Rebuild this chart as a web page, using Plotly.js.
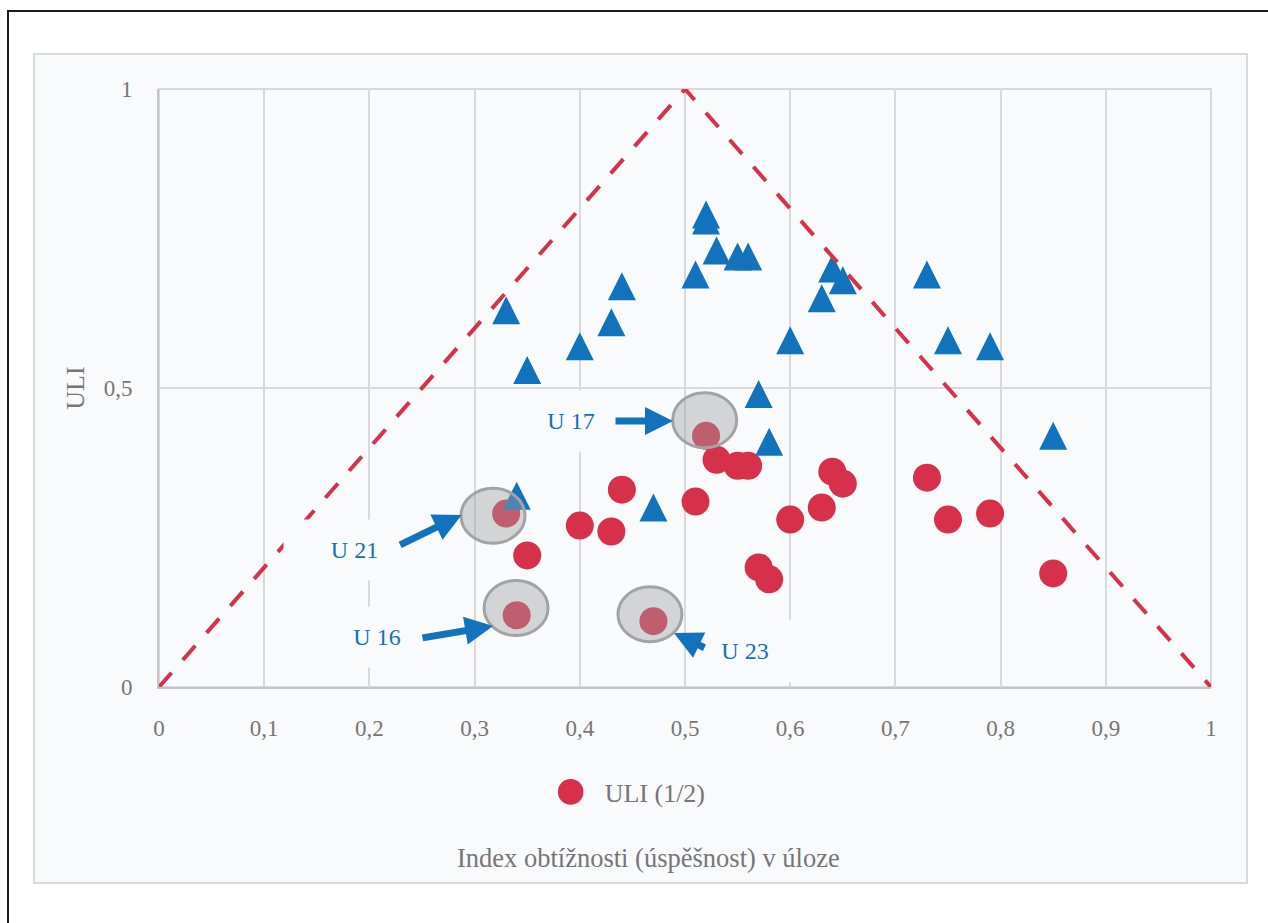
<!DOCTYPE html>
<html>
<head>
<meta charset="utf-8">
<script src="https://cdn.plot.ly/plotly-3.0.1.min.js"></script>
<style>
html,body{margin:0;padding:0;background:#ffffff;width:1268px;height:923px;overflow:hidden;}
#frame{position:absolute;left:7px;top:10px;width:1400px;height:1100px;border-left:2px solid #1f1b1c;border-top:2px solid #1f1b1c;}
#box{position:absolute;left:33px;top:53px;width:1215px;height:831px;box-sizing:border-box;background:#f9fafc;border:2px solid #dadada;}
#chart{position:absolute;left:0;top:0;width:1268px;height:923px;}
</style>
</head>
<body>
<div id="frame"></div>
<div id="box"></div>
<div id="chart"></div>
<script>
// ---- data ----
// ULI (1/2) – red circles
const uliHalfX = [0.33, 0.35, 0.40, 0.43, 0.44, 0.34, 0.47, 0.51, 0.52, 0.53, 0.55, 0.56, 0.57, 0.58, 0.60, 0.63, 0.64, 0.65, 0.73, 0.75, 0.79, 0.85];
const uliHalfY = [0.29, 0.22, 0.27, 0.26, 0.33, 0.12, 0.11, 0.31, 0.42, 0.38, 0.37, 0.37, 0.20, 0.18, 0.28, 0.30, 0.36, 0.34, 0.35, 0.28, 0.29, 0.19];
// second series – blue triangles
const uliOtherX = [0.33, 0.35, 0.40, 0.43, 0.44, 0.51, 0.52, 0.52, 0.53, 0.55, 0.56, 0.57, 0.58, 0.60, 0.63, 0.64, 0.65, 0.73, 0.75, 0.79, 0.85, 0.34, 0.47];
const uliOtherY = [0.63, 0.53, 0.57, 0.61, 0.67, 0.69, 0.79, 0.78, 0.73, 0.72, 0.72, 0.49, 0.41, 0.58, 0.65, 0.70, 0.68, 0.69, 0.58, 0.57, 0.42, 0.32, 0.30];
// boundary (max ULI for given difficulty)
const boundaryX = [0, 0.5, 1];
const boundaryY = [0, 1, 0];
// ticks
const xTickVals = [0, 0.1, 0.2, 0.3, 0.4, 0.5, 0.6, 0.7, 0.8, 0.9, 1];
const xTickText = ['0', '0,1', '0,2', '0,3', '0,4', '0,5', '0,6', '0,7', '0,8', '0,9', '1'];
const yTickVals = [0, 0.5, 1];
const yTickText = ['0', '0,5', '1'];
// labels
const seriesName = 'ULI (1/2)';
const xTitle = 'Index obtížnosti (úspěšnost) v úloze';
const yTitle = 'ULI';
const calloutNames = ['U 21', 'U 16', 'U 17', 'U 23'];

// ---- styles ----
const RED = '#d6304a';
const BLUE = '#1272bb';
const GREY_TXT = '#767676';
const BG = '#f9fafc';
const FONT = '"Liberation Serif", "DejaVu Serif", serif';

const traces = [
  {
    type: 'scatter', mode: 'markers', name: seriesName,
    x: uliHalfX, y: uliHalfY,
    marker: {symbol: 'circle', size: 28, color: RED, line: {width: 0}},
    hoverinfo: 'skip'
  },
  {
    type: 'scatter', mode: 'markers', name: 'ULI',
    x: uliOtherX, y: uliOtherY, showlegend: false,
    marker: {symbol: 'arrow-down', angle: 180, standoff: 14, size: 28, color: BLUE, line: {width: 0}},
    hoverinfo: 'skip'
  },
  {
    type: 'scatter', mode: 'lines', name: 'hranice',
    x: boundaryX, y: boundaryY, showlegend: false,
    line: {color: RED, width: 4, dash: '19px,17px'},
    hoverinfo: 'skip'
  }
];

// callout text boxes (positions in data units) and arrows
const labelPos = [
  {x: 0.1858, y: 0.2291, w: 141, h: 60},
  {x: 0.2072, y: 0.0836, w: 140, h: 60},
  {x: 0.3916, y: 0.4448, w: 100, h: 60},
  {x: 0.5570, y: 0.0602, w: 96, h: 62}
];
const arrowPos = [
  {x: 0.2877, y: 0.2876, ax: -62, ay: 30},
  {x: 0.3175, y: 0.1020, ax: -71, ay: 12},
  {x: 0.4886, y: 0.4448, ax: -58, ay: 0},
  {x: 0.4895, y: 0.0903, ax: 31, ay: 15}
];
const ellipsePos = [
  {x: 0.3175, y: 0.2863},
  {x: 0.3394, y: 0.1321},
  {x: 0.5187, y: 0.4462},
  {x: 0.4667, y: 0.1216}
];

const annotations = [];
labelPos.forEach((p, i) => annotations.push({
  xref: 'x', yref: 'y', x: p.x, y: p.y, text: calloutNames[i], showarrow: false,
  font: {family: FONT, size: 24, color: BLUE}, bgcolor: BG, borderpad: 0,
  width: p.w, height: p.h, align: 'center', valign: 'middle'
}));
arrowPos.forEach(p => annotations.push({
  xref: 'x', yref: 'y', x: p.x, y: p.y, ax: p.ax, ay: p.ay, text: '', showarrow: true,
  arrowhead: 2, arrowsize: 0.8, arrowwidth: 7, arrowcolor: BLUE, borderpad: 0
}));
// x-axis title (centred on the chart box, as in the original)
annotations.push({
  xref: 'paper', yref: 'paper', x: 0.4653, y: -0.286, xanchor: 'center', yanchor: 'middle',
  text: xTitle, showarrow: false, font: {family: FONT, size: 26.5, color: GREY_TXT}
});

const shapes = [{
  type: 'rect', layer: 'below', xref: 'paper', yref: 'paper', x0: 0, x1: 1, y0: 0, y1: 1,
  line: {color: '#d9d9d9', width: 2}, fillcolor: 'rgba(0,0,0,0)'
}].concat(ellipsePos.map(p => ({
  type: 'circle', layer: 'above', xref: 'x', yref: 'y',
  xsizemode: 'pixel', ysizemode: 'pixel', xanchor: p.x, yanchor: p.y,
  x0: -32, x1: 32, y0: -27.5, y1: 27.5,
  fillcolor: 'rgba(160,160,160,0.42)', line: {color: '#a3a3a3', width: 3}
})));

const axisCommon = {
  range: [0, 1], showgrid: true, gridcolor: '#d9d9d9', gridwidth: 2,
  zeroline: false, showline: true, linecolor: '#c4c4c4', linewidth: 2,
  ticks: 'outside', tickcolor: 'rgba(0,0,0,0)', tickmode: 'array',
  tickfont: {family: FONT, size: 23, color: GREY_TXT}, fixedrange: true
};

const layout = {
  width: 1268, height: 923,
  paper_bgcolor: 'rgba(0,0,0,0)', plot_bgcolor: 'rgba(0,0,0,0)',
  margin: {l: 159, r: 57, t: 89, b: 236, pad: 0},
  font: {family: FONT, color: GREY_TXT, size: 23},
  showlegend: true,
  legend: {orientation: 'h', x: 0.359, xanchor: 'left', y: -0.1756, yanchor: 'middle',
           font: {family: FONT, size: 26, color: GREY_TXT}, itemwidth: 58, bgcolor: 'rgba(0,0,0,0)'},
  xaxis: Object.assign({}, axisCommon, {
    tickvals: xTickVals, ticktext: xTickText, ticklen: 19
  }),
  yaxis: Object.assign({}, axisCommon, {
    tickvals: yTickVals, ticktext: yTickText, ticklen: 20,
    title: {text: yTitle, font: {family: FONT, size: 26, color: GREY_TXT}, standoff: 12}
  }),
  shapes: shapes,
  annotations: annotations
};

Plotly.newPlot('chart', traces, layout, {staticPlot: true, displayModeBar: false}).then(gd => {
  // enlarge legend symbol to match marker size
  gd.querySelectorAll('.legend .legendpoints path.scatterpts').forEach(el => {
    const t = el.getAttribute('transform') || '';
    el.setAttribute('transform', t + ' scale(1.6)');
  });
});
</script>
</body>
</html>
